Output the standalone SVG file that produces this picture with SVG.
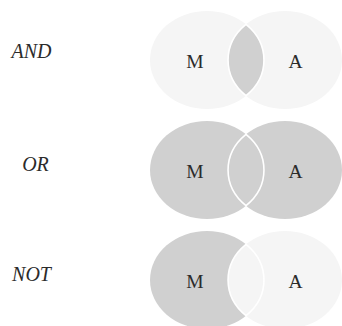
<svg xmlns="http://www.w3.org/2000/svg" width="342" height="326" viewBox="0 0 342 326">
<style>
.light{fill:#f5f5f5}
.dark{fill:#d0d0d0}
.lens{stroke:#ffffff;stroke-width:1.6}
.op{font-family:"Liberation Serif",serif;font-style:italic;font-size:20px;fill:#2b2b2b;text-anchor:middle}
.set{font-family:"Liberation Serif",serif;font-size:19.5px;fill:#2b2b2b;text-anchor:middle}
</style>
<rect width="342" height="326" fill="#ffffff"/>
<g id="row-and">
  <text class="op" x="31.5" y="58">AND</text>
  <g id="and-m"><ellipse class="light" cx="207" cy="60" rx="57" ry="49"/></g>
  <g id="and-a"><ellipse class="light" cx="285" cy="60" rx="57" ry="49"/></g>
  <g id="and-lens"><path class="dark lens" d="M246,24.3 A57,49 0 0,1 246,95.7 A57,49 0 0,1 246,24.3 Z"/></g>
  <text class="set" x="195" y="67.5">M</text>
  <text class="set" x="295.5" y="67.5">A</text>
</g>
<g id="row-or">
  <text class="op" x="35.5" y="171">OR</text>
  <g id="or-m"><ellipse class="dark" cx="207" cy="170" rx="57" ry="49"/></g>
  <g id="or-a"><ellipse class="dark" cx="285" cy="170" rx="57" ry="49"/></g>
  <g id="or-lens"><path class="dark lens" d="M246,134.3 A57,49 0 0,1 246,205.7 A57,49 0 0,1 246,134.3 Z"/></g>
  <text class="set" x="195" y="177.5">M</text>
  <text class="set" x="295.5" y="177.5">A</text>
</g>
<g id="row-not">
  <text class="op" x="31.5" y="281">NOT</text>
  <g id="not-m"><ellipse class="dark" cx="207" cy="280" rx="57" ry="49"/></g>
  <g id="not-a"><ellipse class="light" cx="285" cy="280" rx="57" ry="49"/></g>
  <g id="not-lens"><path class="light lens" d="M246,244.3 A57,49 0 0,1 246,315.7 A57,49 0 0,1 246,244.3 Z"/></g>
  <text class="set" x="195" y="287.5">M</text>
  <text class="set" x="295.5" y="287.5">A</text>
</g>
</svg>
